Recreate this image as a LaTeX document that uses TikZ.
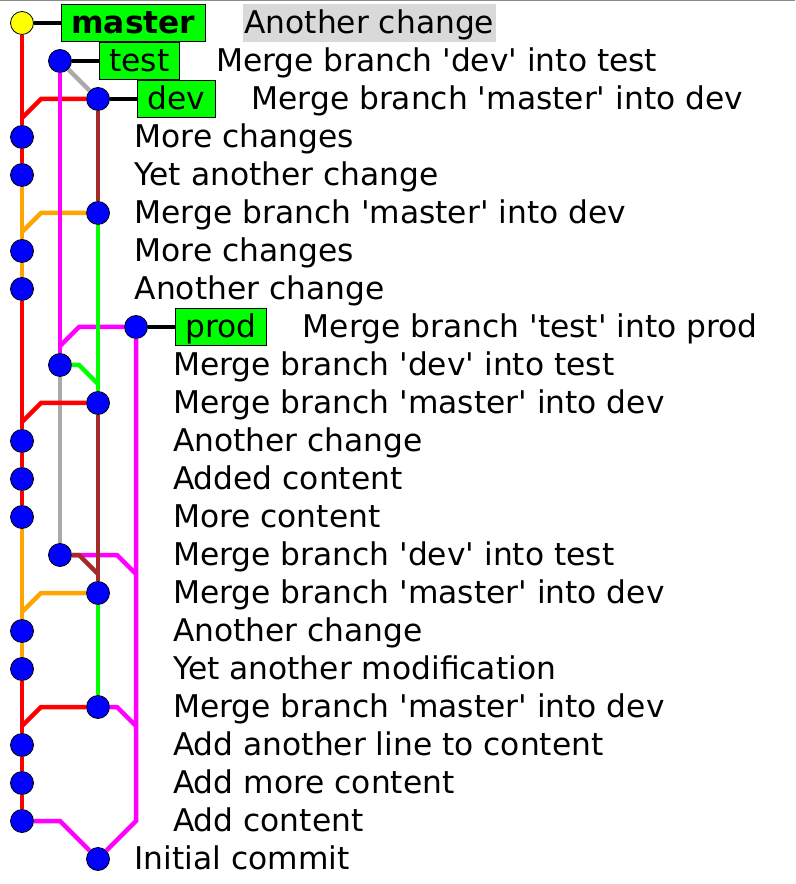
\documentclass[tikz,border=0pt]{standalone}
\usepackage{fontspec}
\setmainfont{DejaVu Sans}
\usetikzlibrary{positioning}
\definecolor{gitorange}{HTML}{FFA500}
\definecolor{gitbrown}{HTML}{A52A2A}
\definecolor{gitgray}{HTML}{AAAAAA}
\definecolor{gitmagenta}{HTML}{FF00FF}
\definecolor{gitgreen}{HTML}{00FF00}
\definecolor{gitred}{HTML}{FF0000}
\definecolor{gitblue}{HTML}{0000FF}
\definecolor{gityellow}{HTML}{FFFF00}
\definecolor{framegray}{HTML}{8C8C8C}
\newcommand\logfont{\fontsize{31.3}{36}\selectfont}
\newcommand\br[1]{\textquotesingle#1\textquotesingle}
\tikzset{
  commit/.style={circle,draw=black,line width=0.8pt,fill=gitblue,minimum size=23pt,inner sep=0pt},
  headcommit/.style={commit,fill=gityellow},
  branchtag/.style={draw=black,line width=0.8pt,fill=gitgreen,inner xsep=10pt,inner ysep=8pt,text height=21.5pt,text depth=0pt},
  msg/.style={inner sep=0pt,text height=21.5pt,text depth=0pt,anchor=west},
  selmsg/.style={msg,fill=gray!30,inner xsep=1.5pt,inner ysep=8.5pt},
  edge/.style={line width=4.5pt},
  tagline/.style={line width=4.5pt,black}
}
\begin{document}
\begin{tikzpicture}[x=38pt,y=-38pt,font=\logfont]
\useasboundingbox (-0.579,-0.605) rectangle (20.342,22.658);
\draw[framegray,line width=1.5pt] (-0.579,-0.586) -- (20.342,-0.586);
\node[headcommit] (c0) at (0,0) {};
\node[commit] (c1) at (1,1) {};
\node[commit] (c2) at (2,2) {};
\node[commit] (c3) at (0,3) {};
\node[commit] (c4) at (0,4) {};
\node[commit] (c5) at (2,5) {};
\node[commit] (c6) at (0,6) {};
\node[commit] (c7) at (0,7) {};
\node[commit] (c8) at (3,8) {};
\node[commit] (c9) at (1,9) {};
\node[commit] (c10) at (2,10) {};
\node[commit] (c11) at (0,11) {};
\node[commit] (c12) at (0,12) {};
\node[commit] (c13) at (0,13) {};
\node[commit] (c14) at (1,14) {};
\node[commit] (c15) at (2,15) {};
\node[commit] (c16) at (0,16) {};
\node[commit] (c17) at (0,17) {};
\node[commit] (c18) at (2,18) {};
\node[commit] (c19) at (0,19) {};
\node[commit] (c20) at (0,20) {};
\node[commit] (c21) at (0,21) {};
\node[commit] (c22) at (2,22) {};
\draw[edge,gitgray] (c1) -- (c2);
\draw[edge,gitgray] (c9) -- (c14);
\draw[edge,gitred] (c0) -- (c3) -- (c4);
\draw[edge,gitred] (c2) -- (0.5,2) -- (0,2.5);
\draw[edge,gitred] (c7) -- (c11) -- (c12) -- (c13);
\draw[edge,gitred] (c10) -- (0.5,10) -- (0,10.5);
\draw[edge,gitred] (c17) -- (c19) -- (c20) -- (c21);
\draw[edge,gitred] (c18) -- (0.5,18) -- (0,18.5);
\draw[edge,gitorange] (c4) -- (c6) -- (c7);
\draw[edge,gitorange] (c5) -- (0.5,5) -- (0,5.5);
\draw[edge,gitorange] (c13) -- (c16) -- (c17);
\draw[edge,gitorange] (c15) -- (0.5,15) -- (0,15.5);
\draw[edge,gitmagenta] (c1) -- (c9);
\draw[edge,gitmagenta] (c8) -- (1.5,8) -- (1,8.5);
\draw[edge,gitmagenta] (c8) -- (3,21) -- (c22);
\draw[edge,gitmagenta] (c14) -- (2.5,14) -- (3,14.5);
\draw[edge,gitmagenta] (c18) -- (2.5,18) -- (3,18.5);
\draw[edge,gitmagenta] (c21) -- (1,21) -- (c22);
\draw[edge,gitbrown] (c2) -- (c5);
\draw[edge,gitbrown] (c10) -- (c15);
\draw[edge,gitbrown] (c14) -- (1.5,14) -- (2,14.5);
\draw[edge,gitgreen] (c5) -- (c10);
\draw[edge,gitgreen] (c9) -- (1.5,9) -- (2,9.5);
\draw[edge,gitgreen] (c15) -- (c18);
\node[branchtag,font=\logfont\bfseries,right=27pt of c0] (lmaster) {master};
\node[branchtag,right=27pt of c1] (ltest) {test};
\node[branchtag,right=27pt of c2] (ldev) {dev};
\node[branchtag,right=27pt of c8] (lprod) {prod};
\draw[tagline] (c0) -- (lmaster);
\draw[tagline] (c1) -- (ltest);
\draw[tagline] (c2) -- (ldev);
\draw[tagline] (c8) -- (lprod);
\node[selmsg,right=37pt of lmaster] (m0) {Another change};
\node[msg,right=36pt of ltest] (m1) {Merge branch \br{dev} into test};
\node[msg,right=36pt of ldev] (m2) {Merge branch \br{master} into dev};
\node[msg] (m3) at (2.96,3) {More changes};
\node[msg] (m4) at (2.96,4) {Yet another change};
\node[msg] (m5) at (2.96,5) {Merge branch \br{master} into dev};
\node[msg] (m6) at (2.96,6) {More changes};
\node[msg] (m7) at (2.96,7) {Another change};
\node[msg,right=36pt of lprod] (m8) {Merge branch \br{test} into prod};
\node[msg] (m9) at (3.97,9) {Merge branch \br{dev} into test};
\node[msg] (m10) at (3.97,10) {Merge branch \br{master} into dev};
\node[msg] (m11) at (3.97,11) {Another change};
\node[msg] (m12) at (3.97,12) {Added content};
\node[msg] (m13) at (3.97,13) {More content};
\node[msg] (m14) at (3.97,14) {Merge branch \br{dev} into test};
\node[msg] (m15) at (3.97,15) {Merge branch \br{master} into dev};
\node[msg] (m16) at (3.97,16) {Another change};
\node[msg] (m17) at (3.97,17) {Yet another modification};
\node[msg] (m18) at (3.97,18) {Merge branch \br{master} into dev};
\node[msg] (m19) at (3.97,19) {Add another line to content};
\node[msg] (m20) at (3.97,20) {Add more content};
\node[msg] (m21) at (3.97,21) {Add content};
\node[msg] (m22) at (2.96,22) {Initial commit};
\end{tikzpicture}
\end{document}
